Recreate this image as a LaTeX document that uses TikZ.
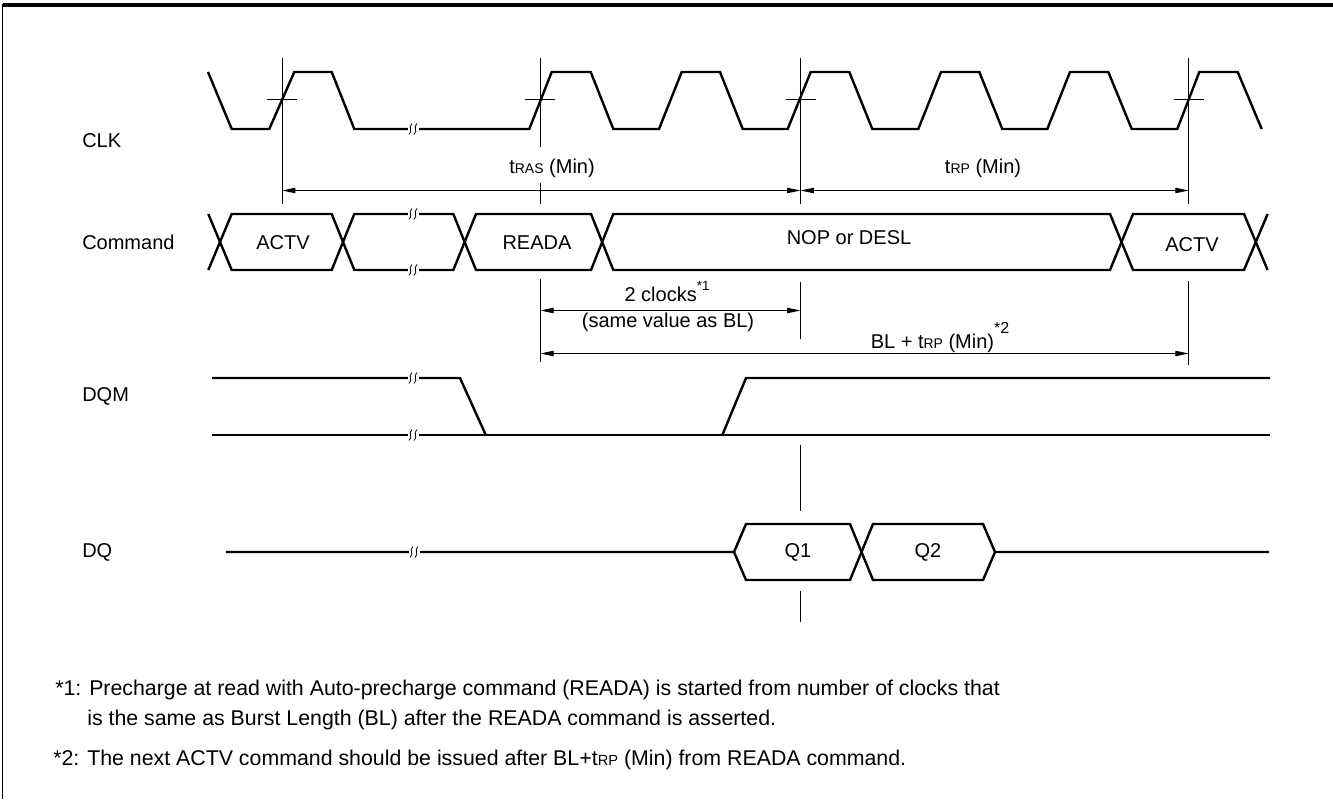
\documentclass[tikz,border=0pt]{standalone}
\usepackage{fontspec}
\setmainfont{Liberation Sans}
\usetikzlibrary{arrows.meta}
\newcommand{\smtxt}[1]{{\fontsize{10.5}{12}\selectfont #1}}
\newcommand{\suptxt}[1]{\raisebox{0.55em}{\fontsize{10}{12}\selectfont #1}}
\begin{document}
\begin{tikzpicture}[x=0.75pt,y=-0.75pt,
  wave/.style={line width=1.8pt,line join=miter},
  guide/.style={line width=0.75pt},
  dimline/.style={line width=0.75pt,{Triangle[length=10pt,width=4pt]}-{Triangle[length=10pt,width=4pt]}},
  txt/.style={inner sep=0pt,font=\fontsize{15}{18}\selectfont},
  fntxt/.style={inner sep=0pt,font=\fontsize{16}{19}\selectfont},
  brkmark/.pic={
    \fill[white] (-5.5,-3) rectangle (5.5,3);
    \draw[line width=0.6pt] (-1,-5.5) .. controls (-5.5,-1.5) and (0.5,1.5) .. (-4,5.5);
    \draw[line width=0.6pt] (4,-5.5) .. controls (-0.5,-1.5) and (5.5,1.5) .. (1,5.5);
  }]
\useasboundingbox (0,0) rectangle (1333,799);
% frame
\draw[line width=2.3pt] (3,5) -- (1333,5);
\draw[line width=1.2pt] (2.5,4) -- (2.5,799);

% signal labels
\node[txt,anchor=west] (lclk) at (82,141) {CLK};
\node[txt,anchor=west] (lcmd) at (82,242) {Command};
\node[txt,anchor=west] (ldqm) at (82,396) {DQM};
\node[txt,anchor=west] (ldq)  at (82,552) {DQ};

% CLK
\draw[wave] (208,72) -- (231.7,129) -- (269.3,129) -- (294.3,72) -- (331.7,72) -- (354.3,129)
  -- (529.3,129) -- (551.7,72) -- (590.7,72) -- (613.3,129) -- (659,129) -- (681.7,72)
  -- (720,72) -- (742.7,129) -- (787.7,129) -- (810.7,72) -- (849.3,72) -- (872.3,129)
  -- (918.3,129) -- (941,72) -- (979.3,72) -- (1002.3,129) -- (1047.3,129) -- (1070,72)
  -- (1108.3,72) -- (1131.7,129) -- (1177.3,129) -- (1199.3,72) -- (1237.7,72) -- (1261.7,129);
\pic at (413,129) {brkmark};

% reference lines
\coordinate (g1t) at (282,58);   \coordinate (g1b) at (282,204);
\coordinate (g2t) at (540.3,58); \coordinate (g2m) at (540.3,147);
\coordinate (g2n) at (540.3,183);\coordinate (g2b) at (540.3,204);
\coordinate (g2c) at (540.3,279);\coordinate (g2d) at (540.3,362);
\coordinate (g3t) at (800.5,58); \coordinate (g3b) at (800.5,204);
\coordinate (g3c) at (800.5,282);\coordinate (g3d) at (800.5,339);
\coordinate (g3e) at (800.5,445);\coordinate (g3f) at (800.5,511);
\coordinate (g3g) at (800.5,591);\coordinate (g3h) at (800.5,622);
\coordinate (g4t) at (1188.7,58);\coordinate (g4b) at (1188.7,204);
\coordinate (g4c) at (1188.7,281);\coordinate (g4d) at (1188.7,365);
\draw[guide] (g1t) -- (g1b);
\draw[guide] (g2t) -- (g2m); \draw[guide] (g2n) -- (g2b); \draw[guide] (g2c) -- (g2d);
\draw[guide] (g3t) -- (g3b); \draw[guide] (g3c) -- (g3d); \draw[guide] (g3e) -- (g3f); \draw[guide] (g3g) -- (g3h);
\draw[guide] (g4t) -- (g4b); \draw[guide] (g4c) -- (g4d);
% crossing ticks
\foreach \cx in {282,540.3,800.5,1188.7}{
  \draw[guide] (\cx-15,99) -- (\cx+15,99);
}

% tRAS / tRP
\coordinate (rasL) at (282,190.5);
\coordinate (rasR) at (800.5,190.5);
\coordinate (rpR) at (1188.7,190.5);
\draw[dimline] (rasL) -- (rasR);
\draw[dimline] (rasR) -- (rpR);
\node[txt] (tras) at (552,168) {t\smtxt{RAS} (Min)};
\node[txt] (trp) at (983,168) {t\smtxt{RP} (Min)};

% Command bus
\draw[wave] (208.3,214) -- (231.7,270) -- (331.7,270) -- (354.3,214) -- (453.3,214) -- (476,270)
  -- (591,270) -- (613.3,214) -- (1110,214) -- (1133,270) -- (1244,270) -- (1267.6,214);
\draw[wave] (208.3,270) -- (231.7,214) -- (331.7,214) -- (354.3,270) -- (453.3,270) -- (476,214)
  -- (591,214) -- (613.3,270) -- (1110,270) -- (1133,214) -- (1244,214) -- (1267.6,270);
\pic at (413,214) {brkmark};
\pic at (413,270) {brkmark};
\node[txt] (c1) at (283,243) {ACTV};
\node[txt] (c2) at (537,243) {READA};
\node[txt] (c3) at (849,238) {NOP or DESL};
\node[txt] (c4) at (1192,245) {ACTV};

% 2 clocks
\coordinate (clkL) at (540.3,310.5);
\coordinate (clkR) at (800.5,310.5);
\draw[dimline] (clkL) -- (clkR);
\node[txt] (twoclk) at (667,292) {2 clocks\suptxt{*1}};
\node[txt] (same) at (668,322) {(same value as BL)};

% BL + tRP
\coordinate (blL) at (540.3,353.5);
\coordinate (blR) at (1188.7,353.5);
\draw[dimline] (blL) -- (blR);
\node[txt] (bltrp) at (940,337) {BL + t\smtxt{RP} (Min)\raisebox{0.75em}{\fontsize{12}{14}\selectfont *2}};

% DQM
\draw[wave] (212,378) -- (460,378) -- (485.8,435);
\draw[wave] (212,435) -- (1270,435);
\draw[wave] (722.3,435) -- (746,378) -- (1270,378);
\pic at (413,378) {brkmark};
\pic at (413,435) {brkmark};

% DQ
\draw[wave] (226,552) -- (734,552) -- (746,524) -- (850,524) -- (873,580) -- (983,580) -- (995,552) -- (1269,552);
\draw[wave] (734,552) -- (746,580) -- (850,580) -- (873,524) -- (983,524) -- (995,552);
\pic at (414,552) {brkmark};
\node[txt] (q1) at (798,552) {Q1};
\node[txt] (q2) at (928,552) {Q2};

% footnotes
\node[fntxt,anchor=west] (fn1a) at (55,690) {*1: Precharge at read with Auto-precharge command (READA) is started from number of clocks that};
\node[fntxt,anchor=west] (fn1b) at (87,720) {is the same as Burst Length (BL) after the READA command is asserted.};
\node[fntxt,anchor=west] (fn2) at (53,760) {*2: The next ACTV command should be issued after BL+t{\fontsize{11}{12}\selectfont RP} (Min) from READA command.};
\end{tikzpicture}
\end{document}
